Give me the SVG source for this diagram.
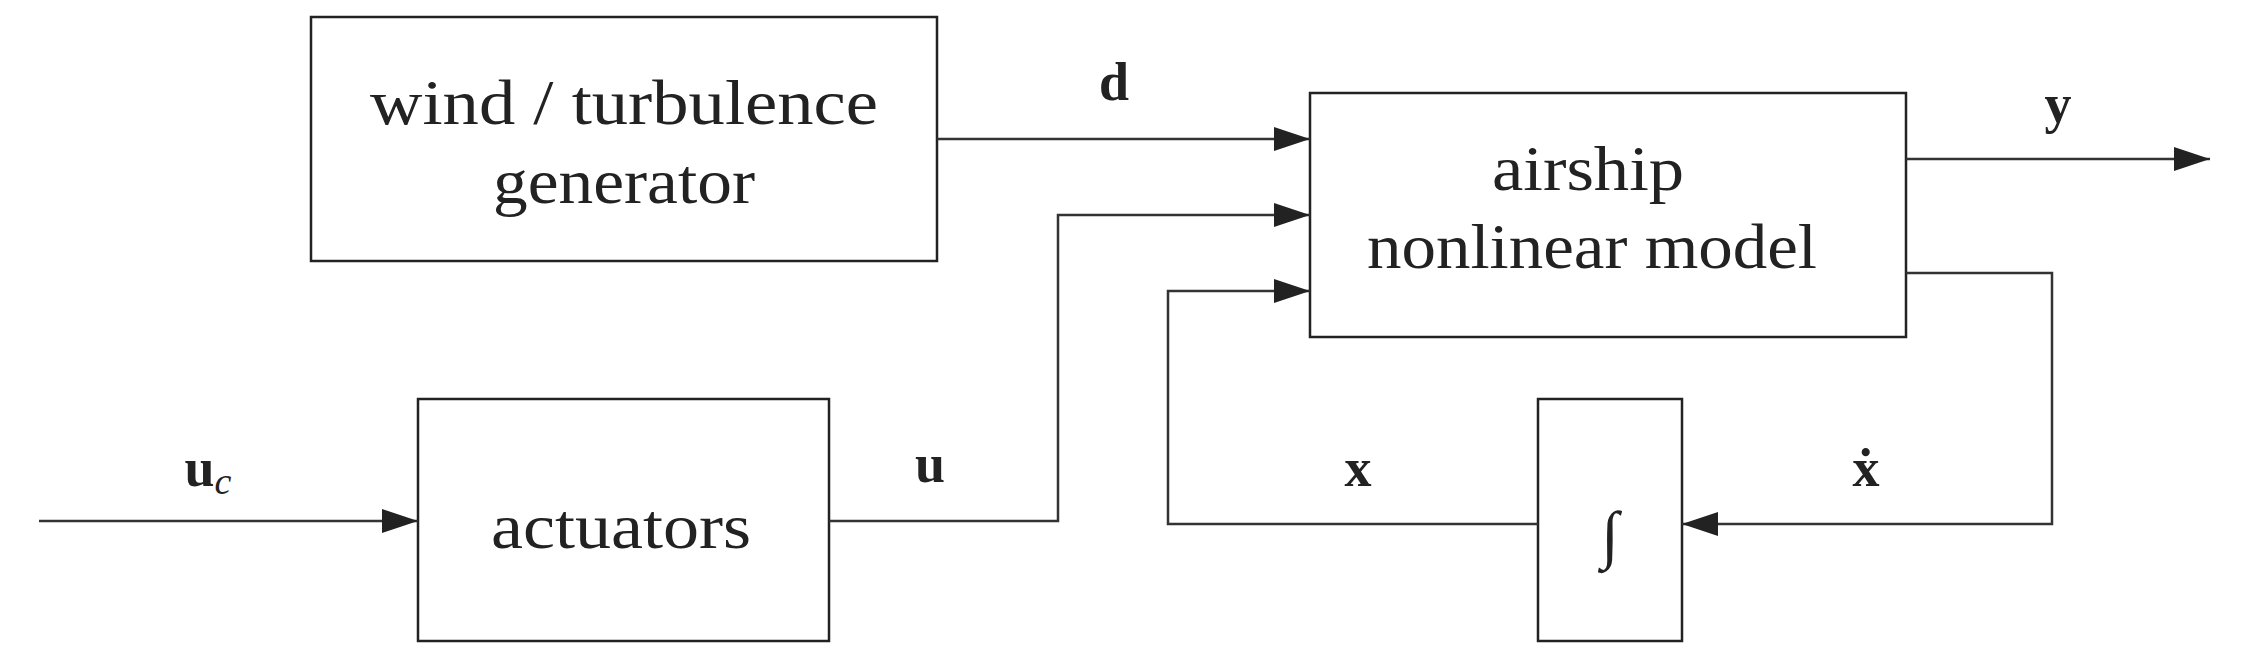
<svg xmlns="http://www.w3.org/2000/svg" width="2250" height="666" viewBox="0 0 2250 666">
<style>
.box{fill:#fff;stroke:#222;stroke-width:2.5}
.ln{fill:none;stroke:#333;stroke-width:2.5}
.t{font-family:"Liberation Serif",serif;font-size:64px;fill:#222;text-anchor:middle}
.b{font-family:"Liberation Serif",serif;font-size:54px;font-weight:bold;fill:#222;text-anchor:middle}
</style>
<defs>
<marker id="ah" markerWidth="36" markerHeight="24" refX="36" refY="12" orient="auto" markerUnits="userSpaceOnUse">
<path d="M0,0 L36,12 L0,24 Z" fill="#222"/>
</marker>
</defs>
<rect width="2250" height="666" fill="#fff"/>
<g id="wind"><rect class="box" x="311" y="17" width="626" height="244"/>
<text class="t" x="624" y="124" textLength="508" lengthAdjust="spacingAndGlyphs">wind / turbulence</text>
<text class="t" x="624" y="203" textLength="262" lengthAdjust="spacingAndGlyphs">generator</text></g>
<g id="airship"><rect class="box" x="1310" y="93" width="596" height="244"/>
<text class="t" x="1588" y="190" textLength="192" lengthAdjust="spacingAndGlyphs">airship</text>
<text class="t" x="1592" y="268" textLength="450" lengthAdjust="spacingAndGlyphs">nonlinear model</text></g>
<g id="actuators"><rect class="box" x="418" y="399" width="411" height="242"/>
<text class="t" x="621" y="548" textLength="260" lengthAdjust="spacingAndGlyphs">actuators</text></g>
<g id="integrator"><rect class="box" x="1538" y="399" width="144" height="242"/>
<text class="t" x="1610" y="556" font-size="90" font-style="italic">∫</text></g>
<g id="connectors">
<path class="ln" d="M937,139 H1310" marker-end="url(#ah)"/>
<path class="ln" d="M829,521 H1058 V215 H1310" marker-end="url(#ah)"/>
<path class="ln" d="M1538,524 H1168 V291 H1310" marker-end="url(#ah)"/>
<path class="ln" d="M39,521 H418" marker-end="url(#ah)"/>
<path class="ln" d="M1906,159 H2210" marker-end="url(#ah)"/>
<path class="ln" d="M1906,273 H2052 V524 H1682" marker-end="url(#ah)"/>
</g>
<g id="labels">
<text class="b" x="1114" y="100">d</text>
<text class="b" x="2058" y="122">y</text>
<text class="b" x="930" y="482">u</text>
<text class="b" x="208" y="486">u<tspan font-weight="normal" font-style="italic" font-size="38" dy="8">c</tspan></text>
<text class="b" x="1358" y="486">x</text>
<text class="b" x="1866" y="486">ẋ</text>
</g>
</svg>
